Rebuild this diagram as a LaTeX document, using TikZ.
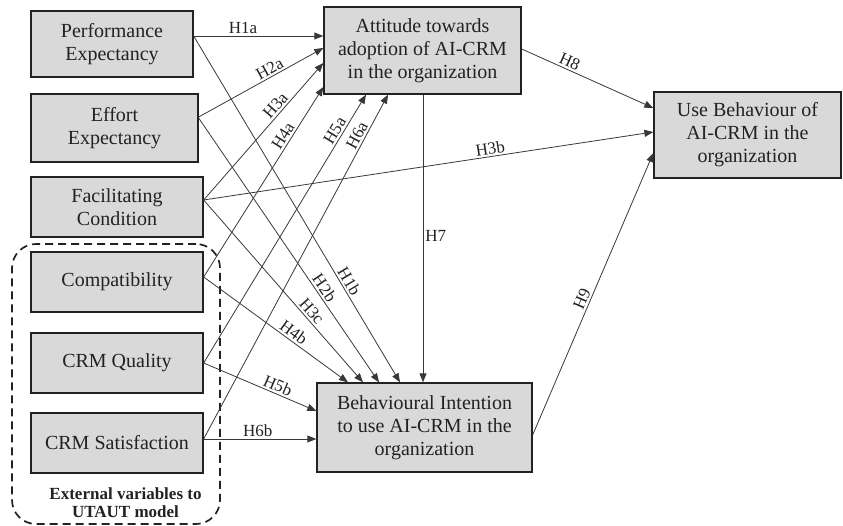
\documentclass[tikz,border=0pt]{standalone}
\usepackage{fontspec}
\setmainfont{Liberation Serif}
\usetikzlibrary{arrows.meta,calc}
\definecolor{boxgray}{HTML}{D9D9D9}
\definecolor{inkc}{HTML}{222222}
\begin{document}
\begin{tikzpicture}[x=1pt,y=-1pt,
  box/.style={draw=inkc, line width=1.3pt, fill=boxgray, align=center, inner sep=2pt,
    font=\fontsize{20}{23}\selectfont, text=inkc},
  conn/.style={draw=inkc!90, line width=0.8pt, -{Triangle[length=9pt,width=7pt]}},
  hl/.style={font=\fontsize{17}{20}\selectfont, inner sep=2pt, text=inkc},
  extbox/.style={draw=inkc, line width=1.7pt, dash pattern=on 8pt off 5pt, rounded corners=24pt}]
\useasboundingbox (0,0) rectangle (843,526);

% dashed group
\node[extbox, minimum width=208pt, minimum height=280pt] (ext) at (116,384) {};
\node[font=\bfseries\fontsize{17}{18}\selectfont, align=center, text=inkc] (extlbl) at (125.5,503) {External variables to\\UTAUT model};

% left boxes
\node[box, minimum width=162pt, minimum height=66pt] (pe) at (112,44) {Performance\\Expectancy};
\node[box, minimum width=167pt, minimum height=68pt] (ee) at (114.5,128) {Effort\\Expectancy};
\node[box, minimum width=172pt, minimum height=60pt] (fc) at (117,207) {Facilitating\\Condition};
\node[box, minimum width=172pt, minimum height=60pt] (co) at (117,282) {Compatibility};
\node[box, minimum width=172pt, minimum height=60pt] (cq) at (117,363) {CRM Quality};
\node[box, minimum width=172pt, minimum height=60pt] (cs) at (117,443) {CRM Satisfaction};

% right boxes
\node[box, minimum width=197pt, minimum height=87pt] (att) at (422.5,50.5) {Attitude towards\\adoption of AI-CRM\\in the organization};
\node[box, minimum width=187pt, minimum height=86pt] (ub) at (747.5,135) {Use Behaviour of\\AI-CRM in the\\organization};
\node[box, minimum width=215pt, minimum height=89pt] (bi) at (424.5,427.5) {Behavioural Intention\\to use AI-CRM in the\\organization};

% to attitude
\draw[conn] ([yshift=8pt]pe.east) -- node[hl, above, pos=0.38] {H1a} ([yshift=14.5pt]att.west);
\draw[conn] ([yshift=11pt]ee.east) -- node[hl, sloped, above, pos=0.6] {H2a} ([yshift=2.5pt]att.west);
\draw[conn] ([yshift=7pt]fc.east) -- node[hl, sloped, above, pos=0.65] {H3a} ([yshift=-12.5pt]att.west);
\draw[conn] ([yshift=5pt]co.east) -- node[hl, sloped, above, pos=0.72] {H4a} ([yshift=-36.5pt]att.west);
\draw[conn] (cq.east) -- node[hl, sloped, above, pos=0.85] {H5a} ([xshift=-56.5pt]att.south);
\draw[conn] ([yshift=4pt]cs.east) -- node[hl, sloped, above, pos=0.87] {H6a} ([xshift=-34.5pt]att.south);

% to behavioural intention
\draw[conn] ([yshift=8pt]pe.east) -- node[hl, sloped, above, pos=0.72] {H1b} ([xshift=-24.5pt]bi.north);
\draw[conn] ([yshift=10pt]ee.east) -- node[hl, sloped, above, pos=0.66] {H2b} ([xshift=-45.5pt]bi.north);
\draw[conn] ([yshift=7pt]fc.east) -- node[hl, sloped, above, pos=0.64] {H3c} ([xshift=-61.5pt]bi.north);
\draw[conn] ([yshift=5pt]co.east) -- node[hl, sloped, above, pos=0.59] {H4b} ([xshift=-76.5pt]bi.north);
\draw[conn] (cq.east) -- node[hl, sloped, above, pos=0.63] {H5b} ([yshift=16.5pt]bi.west);
\draw[conn] ([yshift=4pt]cs.east) -- node[hl, above, pos=0.48] {H6b} ([yshift=-11.5pt]bi.west);

% to use behaviour
\draw[conn] ([yshift=7pt]fc.east) -- node[hl, sloped, above, pos=0.64] {H3b} ([yshift=3pt]ub.west);
\draw[conn] ([yshift=1.5pt]att.east) -- node[hl, sloped, above, pos=0.34] {H8} ([yshift=27pt]ub.west);
\draw[conn] ([yshift=-7.5pt]bi.east) -- node[hl, sloped, above, pos=0.47] {H9} ([yshift=-18pt]ub.west);

% attitude to intention
\draw[conn] ([xshift=0.5pt]att.south) -- node[hl, right, pos=0.49] {H7} ([xshift=-1.5pt]bi.north);
\end{tikzpicture}
\end{document}
